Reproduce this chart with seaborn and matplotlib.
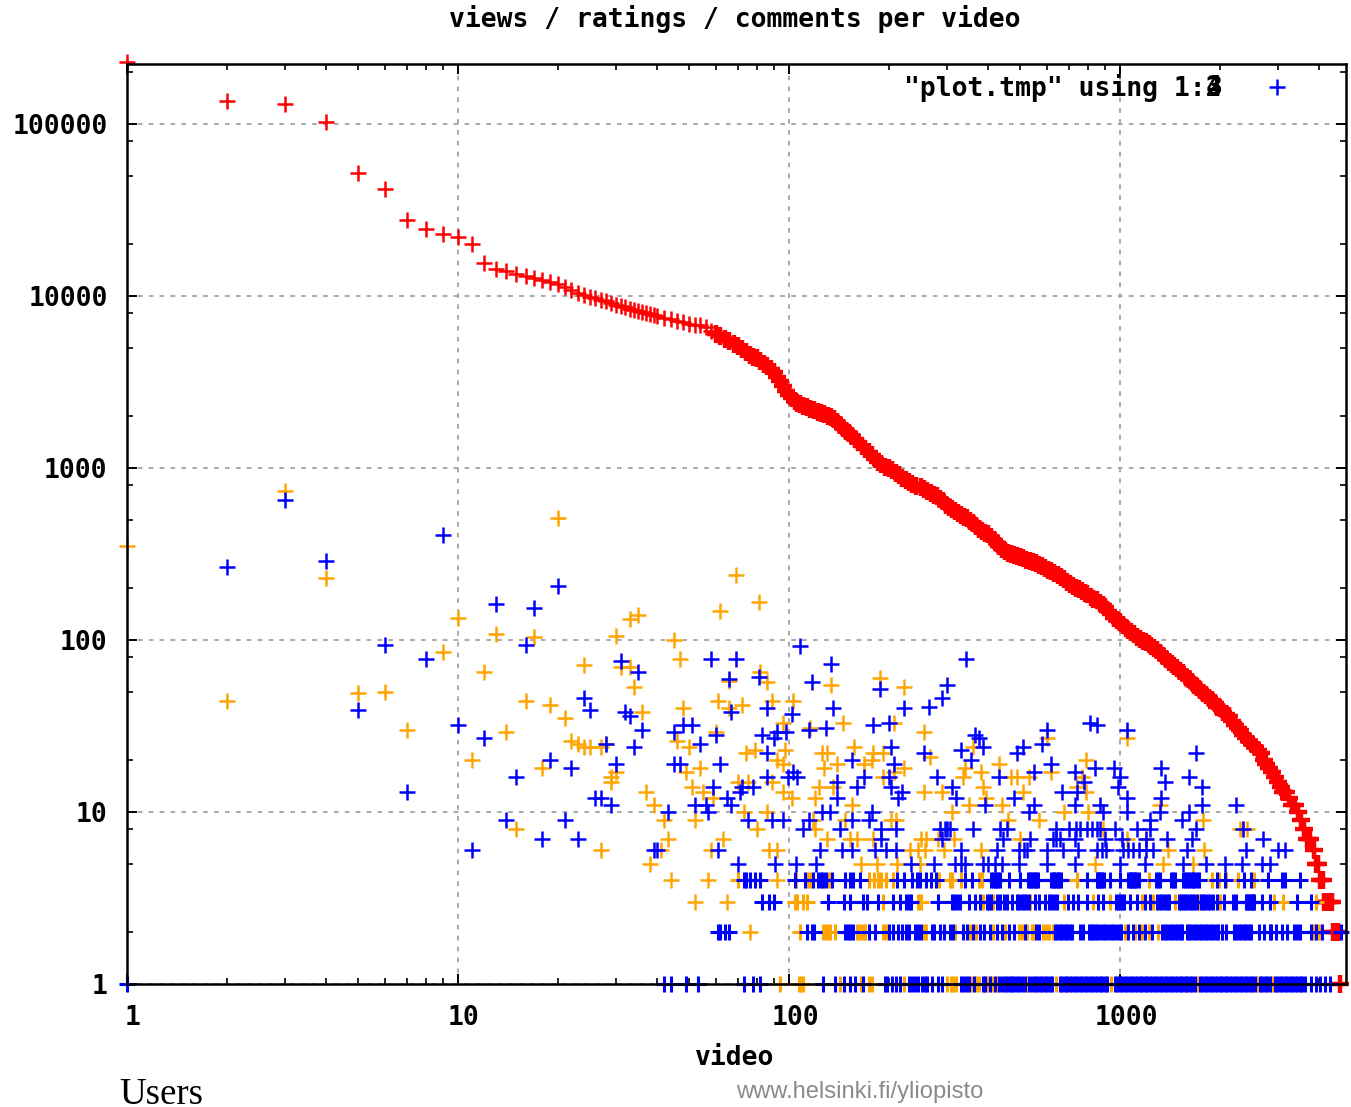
import matplotlib
matplotlib.use("Agg")
import matplotlib.pyplot as plt
from matplotlib.lines import Line2D
from matplotlib.ticker import LogLocator, NullFormatter, FixedLocator, FixedFormatter
from matplotlib.transforms import ScaledTranslation
import pandas as pd
import seaborn as sns

title_text = "views / ratings / comments per video"
x_label = "video"
legend_label = '"plot.tmp" using 1:2'
x_ticks = [1, 10, 100, 1000]
x_tick_labels = ["1", "10", "100", "1000"]
y_ticks = [1, 10, 100, 1000, 10000, 100000]
y_tick_labels = ["1", "10", "100", "1000", "10000", "100000"]

red_head_points = [(1,229000),(2,137000),(3,130000),(4,103000),(5,52000),(6,42000),(7,27500),(8,24500),(9,23000),(10,22000),
(11,20000),(12,15500),(13,14300),(14,14000),(15,13500),(16,13000),(17,12700),(18,12400),(19,12100),(20,11800),
(21,11300),(22,10800),(23,10400),(24,10100),(25,9900),(26,9700),(27,9500),(28,9300),(29,9100),(30,8900),
(31,8700),(32,8600),(33,8450),(34,8300),(35,8200),(36,8100),(37,8000),(38,7900),(39,7800),(40,7700),
(42,7500),(44,7350),(46,7200),(48,7050),(50,6900),(52,6800),(54,6750),(56,6600),(58,6300)]
red_tail_points = [(60,6050),
(62,5850),(64,5650),(66,5450),(68,5250),(70,5100),(72,4900),(74,4700),(76,4550),(78,4450),(80,4350),
(82,4200),(84,4050),(86,3900),(88,3750),(90,3600),(92,3400),(94,3200),(96,3000),(98,2800),(100,2650),
(102,2550),(104,2450),(106,2400),(108,2350),(110,2300),(113,2250),(116,2200),(119,2180),(122,2120),(125,2080),
(128,2050),(131,2000),(134,1980),(137,1920),(140,1860),(143,1780),(146,1700),(149,1650),(152,1600),(155,1540),
(158,1480),(162,1420),(166,1350),(170,1290),(174,1240),(178,1190),(182,1130),(186,1090),(190,1050),(195,1020),
(200,1000),(205,970),(210,940),(215,910),(220,880),(225,850),(230,825),(236,805),(242,790),(250,777),
(256,760),(262,735),(268,720),(274,700),(280,685),(286,665),(292,640),(298,610),(304,590),(310,575),
(317,560),(324,545),(331,532),(338,522),(345,510),(352,495),(360,478),(368,458),(376,440),(384,428),
(392,420),(400,415),(408,398),(416,380),(424,365),(432,352),(440,340),(450,330),(460,322),(470,317),
(480,312),(490,307),(500,303),(511,298),(522,293),(534,288),(546,284),(558,279),(570,273),(582,268),
(595,263),(608,257),(621,251),(634,245),(648,239),(662,232),(676,225),(690,218),(705,212),(720,207),
(735,202),(750,197),(766,192),(782,187),(798,184),(815,178),(832,174),(850,170),(868,165),(886,160),
(904,155),(922,148),(941,142),(960,135),(980,131),(1000,127),(1020,122),(1040,118),(1061,114),(1082,111),
(1104,108),(1126,104),(1149,101),(1172,99),(1196,97),(1220,95),(1245,92),(1270,90),(1296,88),(1322,84),
(1349,81),(1376,78),(1404,75),(1432,73),(1461,71),(1490,69),(1520,66),(1551,64),(1582,61),(1614,59),
(1647,57),(1680,55),(1714,53),(1749,51),(1784,49),(1820,48),(1857,46),(1894,45),(1932,43),(1971,41),
(2011,40),(2052,38),(2093,37),(2135,36),(2178,34),(2222,32),(2267,31),(2313,30),(2360,28),(2408,27),
(2457,26),(2506,25),(2557,24),(2609,23),(2662,22),(2716,20),(2771,19),(2827,18),(2884,17),(2942,16),
(3000,15),(3060,14),(3120,13),(3185,13),(3250,12),(3315,11),(3380,11),(3450,10),(3520,9),(3600,8),
(3680,7),(3760,7),(3850,6),(3920,5),(3980,5),(4030,4),(4100,4),(4150,3),(4220,3),(4300,3),(4370,3),
(4400,2),(4480,2),(4560,2),(4620,1)]

orange_points = [(1,352),(2,44),(3,735),(4,230),(5,49),(6,50),(7,30),(9,85),(10,134),(11,20),(12,65),(13,108),
(14,29),(15,8),(16,44),(17,104),(18,18),(19,42),(20,510),(21,35),(22,26),(23,25),(24,72),(24,24),(25,24),(27,24),
(27,6),(28,25),(29,16),(29,15),(30,106),(30,17),(31,70),(33,133),(33,70),(34,53),(35,140),(36,38),(37,13),(38,5),
(39,11),(41,6),(42,9),(43,7),(44,4),(45,100),(46,26),(47,78),(48,40),(49,17),(50,24),(51,14),(52,9),(52,3),(54,18),
(55,13),(57,4),(58,6),(59,12),(60,29),(61,44),(62,148),(63,7),(65,3),(66,58),(66,40),(69,240),(70,15),(72,42),(73,10),
(74,22),(75,15),(76,2),(79,23),(80,8),(81,167),(82,65),(86,57),(86,10),(87,6),(89,44),(89,15),(92,20),(92,6),(92,4),
(96,33),(96,19),(96,13),(97,23),(102,12),(103,44),(116,31),(118,9),(120,12),(120,8),(123,14),(126,22),(128,18),(130,22),
(130,7),(134,55),(136,14),(140,19),(146,33),(148,9),(153,7),(155,11),(157,24),(160,7),(165,5),(169,19),(178,20),(180,22),
(180,7),(185,5),(188,60),(192,22),(192,16),(203,9),(207,33),(207,17),(211,9),(212,5),(223,53),(223,18),(232,6),(245,6),
(248,5),(250,7),(255,29),(255,13),(258,6),(260,7),(267,21),(283,7),(290,13),(295,6),(310,10),(315,7),(335,16),(340,18),
(350,11),(360,24),(380,17),(380,6),(385,14),(395,12),(430,19),(440,11),(460,9),(470,16),(490,16),(500,7),(510,13),(530,16),
(570,9),(600,27),(620,17),(680,10),(740,14),(770,16),(790,20),(790,13),(800,10),(840,5),(890,8),(1050,27),(1050,7),(1200,7),
(1320,11),(1350,5),(1400,6),(1660,5),(1780,9),(1790,6),(2300,8),(2350,8),(2420,8)]

blue_points = [(2,265),(3,650),(4,290),(5,39),(6,94),(7,13),(8,78),(9,410),(10,32),(11,6),(12,27),(13,162),(14,9),(15,16),
(16,94),(17,153),(18,7),(19,20),(20,206),(21,9),(22,18),(23,7),(24,46),(25,39),(26,12),(27,12),(28,25),(29,11),(30,19),
(31,76),(32,38),(33,36),(34,24),(35,65),(36,30),(39,6),(40,6),(43,10),(45,29),(45,19),(47,19),(48,32),(51,32),(52,11),
(54,25),(56,11),(57,10),(58,78),(59,14),(60,28),(61,6),(62,19),(65,12),(66,59),(67,38),(67,11),(69,78),(70,5),(71,13),
(72,14),(75,9),(78,14),(81,61),(83,28),(86,40),(86,22),(86,16),(89,9),(90,27),(91,5),(92,29),(96,9),(98,29),(99,16),
(102,37),(103,17),(105,5),(106,16),(108,92),(110,8),(115,30),(115,9),(117,57),(121,5),(124,6),(126,10),(129,31),(133,10),
(134,73),(136,40),(140,15),(140,12),(143,8),(145,6),(155,20),(155,9),(155,6),(160,14),(169,16),(175,9),(178,10),(180,32),
(182,6),(188,52),(190,8),(190,7),(196,6),(200,33),(200,16),(203,24),(203,14),(207,19),(211,8),(211,6),(213,12),(220,13),
(223,40),(233,5),(255,22),(265,41),(275,5),(280,16),(290,46),(290,7),(300,55),(300,8),(310,14),(320,12),(330,23),(343,78),
(355,20),(365,28),(375,27),(385,24),(390,11),(430,16),(480,12),(490,22),(510,24),(530,10),(550,17),(550,11),(580,25),(600,30),
(620,19),(670,13),(730,17),(730,11),(740,13),(780,15),(810,33),(840,18),(850,32),(870,11),(890,10),(960,18),(990,14),(1000,16),
(1050,30),(1050,12),(1050,10),(1230,9),(1320,10),(1330,18),(1330,12),(1370,15),(1540,9),(1620,16),(1620,10),(1650,7),(1700,22),
(1700,8),(1770,14),(1770,11),(2250,11),(2350,8),(2400,6),(2700,7),(3000,6),(3150,6)]

# Blue and orange rows of the low integer counts (rank values at each count)
blue_row_8 = [286,297,307,360,434,456,640,700,735,760,795,825,850,870,968,1125,1235]
blue_row_7 = [443,535,627,640,657,734,904,1015,1195,1385]
blue_row_6 = [332,424,495,512,523,600,675,745,850,880,905,1025,1060,1095,1140,1195,1260,1590]
blue_row_5 = [318,330,340,386,400,419,440,495,600,730,1000,1190,1550,1820,2070,2340,2680,2840]
blue_row_4 = [73,74,76,79,82,104,112,118,122,125,127,129,135,148,153,156,164,212,222,235,243,248,260,269,279,340,358,408,413,418,423,428,434,461,499,528,534,540,545,552,558,565,
621,628,634,640,648,655,663,796,850,858,866,875,885,895,935,1000,1060,1070,1080,1090,1100,1110,1120,1139,1285,1300,1320,1430,1450,1470,1550,1570,1590,1615,1640,1660,1680,1705,1735,1960,2080,2375,2490,2800,3090,3150,3500]
blue_row_3 = [83,87,90,131,147,153,167,172,186,206,216,226,230,233,282,310,316,322,328,349,364,377,397,403,408,424,433,445,456,473,
490,497,505,512,520,530,553,571,592,610,620,630,645,698,720,745,796,860,890,970,985,1000,1015,1030,1070,1125,1190,1230,1290,1320,1340,1365,1385,1410,1510,1530,1550,1575,1600,1625,1650,1680,1710,
1760,1785,1810,1840,1870,1915,1960,2060,2200,2240,2400,2425,2450,2475,2500,2525,2550,2680,2850,3430,3770]
blue_row_2 = [61,62,64,66,113,117,119,148,151,153,156,174,182,201,206,214,219,225,230,240,245,250,270,275,286,295,306,314,336,344,360,377,389,404,424,440,461,477,515,558,571,
636,646,657,669,681,693,705,714,760,775,805,817,830,843,852,870,890,904,920,937,955,973,991,1010,1060,1095,1139,1192,1248,1340,
1370,1392,1417,1440,1470,1490,1515,1540,1590,1616,1645,1672,1700,1730,1760,1790,1820,1850,1885,1915,1950,1975,2040,2090,
2210,2250,2285,2325,2365,2405,2450,2490,2630,2720,2840,2870,2960,3090,3200,3350,3430,3500,3770,3900,4080,4640]
blue_row_1 = [1,42,44,49,53,73,78,82,127,138,147,153,158,167,195,198,205,210,216,230,235,240,245,253,258,262,270,282,290,330,335,342,350,362,385,392,405,418,
432,440,448,456,464,472,480,488,497,506,515,533,542,552,562,572,582,592,602,613,624,657,669,681,693,705,717,730,743,756,769,783,797,811,825,840,855,870,885,900,916,965,982,
1000,1017,1035,1053,1072,1091,1110,1129,1149,1169,1190,1211,1232,1254,1276,1298,1321,1344,1368,1392,1416,1441,1466,1492,1518,1545,1572,1600,1628,1656,1685,1745,1775,1806,1838,1870,1903,1937,1971,
2005,2040,2076,2113,2150,2187,2225,2264,2304,2344,2385,2427,2470,2513,2557,2647,2694,2741,2789,2838,2938,2989,3042,3095,3149,3204,3260,3318,3376,3435,3495,3556,3618,3770,3900,4030,4160,4300]

orange_row_4 = [70,105,113,116,132,175,181,186,190,197,206,285,307,311,331,375,384,740,1220,1900,1990,2090,2270,2550]
orange_row_3 = [104,106,110,113,192,245,251,385,414,535,680,830,935,1170,1260,1470,1730,2000,2920,3100,3900]
orange_row_2 = [108,127,129,131,133,138,160,163,166,168,170,192,197,255,260,318,352,368,414,450,494,506,523,541,547,584,598,612,627,1035,1110,1170,1220,1300,2030,3840,4000]
orange_row_1 = [94,107,109,110,143,165,174,178,222,300,308,314,320,355,368,375,398,412,425,524,640,940,1715,2602,2887]

def frame(points, rows):
    xs = [p[0] for p in points]
    ys = [p[1] for p in points]
    for level, ranks in rows.items():
        xs += ranks
        ys += [level] * len(ranks)
    return pd.DataFrame({"video": xs, "count": ys})

layers = [
    (frame(red_head_points, {}), "#ff0000", 135, 1.8),
    (frame(red_tail_points, {}), "#ff0000", 165, 3.2),
    (frame(orange_points, {}), "#ffa500", 135, 1.8),
    (frame([], {4: orange_row_4, 3: orange_row_3, 2: orange_row_2, 1: orange_row_1}), "#ffa500", 135, 2.2),
    (frame(blue_points, {8: blue_row_8, 7: blue_row_7, 6: blue_row_6, 5: blue_row_5}), "#0000ff", 135, 1.8),
    (frame([], {4: blue_row_4, 3: blue_row_3, 2: blue_row_2, 1: blue_row_1}), "#0000ff", 135, 2.2),
]

sns.set_style("white")
mono = {"family": "DejaVu Sans Mono", "weight": "bold", "size": 19}

W, H = 1351, 1107
fig = plt.figure(figsize=(W / 100, H / 100), dpi=100)
ax = fig.add_axes([127 / W, (H - 984) / H, 1219 / W, 920 / H])

for df, col, size, lw in layers:
    sns.scatterplot(data=df, x="video", y="count", marker="+", color=col, s=size, linewidth=lw,
                    clip_on=False, legend=False, ax=ax)

ax.set_xscale("log")
ax.set_yscale("log")
ax.set_xlim(1, 4820)
ax.set_ylim(1, 223500)

ax.xaxis.set_major_locator(FixedLocator(x_ticks))
ax.xaxis.set_major_formatter(FixedFormatter(x_tick_labels))
ax.yaxis.set_major_locator(FixedLocator(y_ticks))
ax.yaxis.set_major_formatter(FixedFormatter(y_tick_labels))
ax.xaxis.set_minor_locator(LogLocator(base=10, subs=(2, 3, 4, 5, 6, 7, 8, 9), numticks=20))
ax.yaxis.set_minor_locator(LogLocator(base=10, subs=(2, 5, 8), numticks=20))
ax.xaxis.set_minor_formatter(NullFormatter())
ax.yaxis.set_minor_formatter(NullFormatter())

ax.set_axisbelow(True)
ax.grid(True, which="major", color="#a8a8a8", linewidth=1.4, linestyle=(0, (2.4, 3.2)))
ax.grid(False, which="minor")
ax.tick_params(which="major", direction="in", length=7.5, width=1.4, top=True, right=True, left=True, bottom=True,
               color="black")
ax.tick_params(which="minor", direction="in", length=4, width=1.2, top=True, right=True, left=True, bottom=True,
               color="black")
ax.tick_params(axis="x", which="major", pad=15)
ax.tick_params(axis="y", which="major", pad=14)
for spine in ax.spines.values():
    spine.set_visible(True)
    spine.set_color("black")
    spine.set_linewidth(1.8)

for lab in ax.get_xticklabels():
    lab.set_fontproperties("DejaVu Sans Mono")
    lab.set_fontweight("bold")
    lab.set_fontsize(19)
    lab.set_color("black")
    lab.set_transform(lab.get_transform() + ScaledTranslation(6 / 100, 0, fig.dpi_scale_trans))
for lab in ax.get_yticklabels():
    lab.set_fontproperties("DejaVu Sans Mono")
    lab.set_fontweight("bold")
    lab.set_fontsize(19)
    lab.set_color("black")

ax.set_xlabel("")
ax.set_ylabel("")
fig.text(735 / W, 1 - 19 / H, title_text, ha="center", va="center", color="black", **mono)
fig.text(735 / W, 1 - 1058 / H, x_label, ha="center", va="center", color="black", **mono)

handle = Line2D([], [], linestyle="none", marker="+", color="#0000ff", markersize=11.5, markeredgewidth=1.8)
leg = ax.legend([handle], [legend_label], loc="center right", bbox_to_anchor=(1290 / W, 1 - 88 / H),
                bbox_transform=fig.transFigure, frameon=False, markerfirst=False, handletextpad=1.6,
                handlelength=1.0, borderpad=0, borderaxespad=0, labelcolor="black",
                prop={"family": "DejaVu Sans Mono", "weight": "bold", "size": 19})
# gnuplot drew the other two key entries on top of the first: only the last digit differs
fig.text(1214 / W, 1 - 88 / H, "3", ha="center", va="center", color="black", **mono)
fig.text(1214 / W, 1 - 88 / H, "4", ha="center", va="center", color="black", **mono)

fig.text(119 / W, 1 - 1104 / H, "Users", ha="left", va="baseline", family="Liberation Serif", size=26.6, color="black")
fig.text(736 / W, 1 - 1092 / H, "www.helsinki.fi/yliopisto", ha="left", va="center", family="Liberation Sans",
         size=17.1, color="#8a8a8a")

fig.savefig("out.png", dpi=100)
